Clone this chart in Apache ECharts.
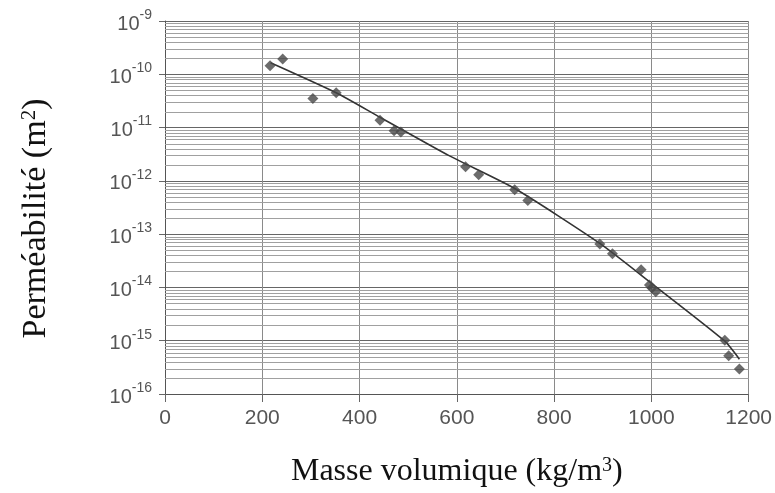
<!DOCTYPE html>
<html>
<head>
<meta charset="utf-8">
<script src="https://cdn.jsdelivr.net/npm/echarts@6/dist/echarts.min.js"></script>
<style>html,body{margin:0;padding:0;background:#fff;}#c{width:775px;height:493px;}</style>
</head>
<body>
<div id="c"></div>
<script>
// Measured points: density (kg/m3), permeability (m2)
const density = [216, 242, 304, 352, 442, 471, 485, 618, 645, 719, 746, 894, 920, 979, 996, 1001, 1009, 1151, 1159, 1181];
const permeability = [1.45e-10, 1.94e-10, 3.5e-11, 4.5e-11, 1.37e-11, 8.7e-12, 8.3e-12, 1.83e-12, 1.30e-12, 6.8e-13, 4.3e-13, 6.5e-14, 4.3e-14, 2.15e-14, 1.11e-14, 9.8e-15, 8.3e-15, 1.02e-15, 5.2e-16, 2.96e-16];
// Fitted curve
const fitDensity = [217, 352, 442, 584, 720, 894, 999, 1150, 1181];
const fitPerm = [1.65e-10, 4.5e-11, 1.56e-11, 2.97e-12, 7.1e-13, 6.7e-14, 1.22e-14, 1.0e-15, 4.5e-16];
// Axis ticks
const xTicks = [0, 200, 400, 600, 800, 1000, 1200];
const decades = [-16, -15, -14, -13, -12, -11, -10];
const minorMultipliers = [2, 3, 4, 5, 6, 7, 8, 9];

const minorValues = [];
decades.forEach(d => minorMultipliers.forEach(m => minorValues.push(m * Math.pow(10, d))));

const chart = echarts.init(document.getElementById('c'));
chart.setOption({
  animation: false,
  backgroundColor: '#fff',
  grid: { left: 165, right: 24, top: 21, bottom: 96, show: false },
  xAxis: {
    type: 'value', min: xTicks[0], max: xTicks[xTicks.length - 1], interval: 200,
    name: 'Masse volumique (kg/m{sup|3})',
    nameLocation: 'middle', nameGap: 62,
    nameTextStyle: {
      fontFamily: 'Liberation Serif', fontSize: 32, color: '#111',
      rich: { sup: { fontFamily: 'Liberation Serif', fontSize: 20, color: '#111', verticalAlign: 'top', lineHeight: 32 } }
    },
    axisLine: { show: true, lineStyle: { color: '#555', width: 1 } },
    axisTick: { show: true, inside: false, length: 8, lineStyle: { color: '#666' } },
    axisLabel: {
      margin: 14, fontFamily: 'Liberation Sans', fontSize: 21, color: '#555',
      formatter: function (v) { return String(v); }
    },
    splitLine: { show: true, lineStyle: { color: '#8a8a8a', width: 1 } }
  },
  yAxis: {
    type: 'log', logBase: 10, min: 1e-16, max: 1e-9,
    name: 'Perméabilité (m{sup|2})',
    nameLocation: 'middle', nameGap: 112, nameRotate: 90,
    nameTextStyle: {
      fontFamily: 'Liberation Serif', fontSize: 34, color: '#111',
      padding: [0, 22, 0, 0],
      rich: { sup: { fontFamily: 'Liberation Serif', fontSize: 21, color: '#111', verticalAlign: 'top', lineHeight: 34 } }
    },
    axisLine: { show: true, lineStyle: { color: '#555', width: 1 } },
    axisTick: { show: true, inside: false, length: 6, lineStyle: { color: '#666' } },
    axisLabel: {
      margin: 13,
      formatter: function (v) {
        const e = Math.round(Math.log10(v));
        return '{b|10}{s|' + e + '}';
      },
      rich: {
        b: { fontFamily: 'Liberation Sans', fontSize: 20, color: '#555', verticalAlign: 'bottom', lineHeight: 26 },
        s: { fontFamily: 'Liberation Sans', fontSize: 14, color: '#555', verticalAlign: 'top', lineHeight: 26 }
      }
    },
    splitLine: { show: true, lineStyle: { color: '#666', width: 1 } }
  },
  series: [
    {
      type: 'custom', name: 'minorGrid', silent: true, z: 1,
      data: minorValues.map(v => [v]),
      encode: { y: 0 },
      renderItem: function (params, api) {
        const v = api.value(0);
        const p1 = api.coord([xTicks[0], v]);
        const p2 = api.coord([xTicks[xTicks.length - 1], v]);
        return {
          type: 'line',
          shape: { x1: p1[0], y1: Math.round(p1[1]) + 0.5, x2: p2[0], y2: Math.round(p2[1]) + 0.5 },
          style: { stroke: '#a0a0a0', lineWidth: 1 }
        };
      }
    },
    {
      type: 'line', name: 'fit', smooth: 0.2, symbol: 'none',
      lineStyle: { color: '#333', width: 1.6 },
      data: fitDensity.map((x, i) => [x, fitPerm[i]]),
      z: 3
    },
    {
      type: 'scatter', name: 'data', symbol: 'diamond', symbolSize: 11,
      itemStyle: { color: '#474747' },
      data: density.map((x, i) => [x, permeability[i]]),
      z: 4
    }
  ]
});
</script>
</body>
</html>
